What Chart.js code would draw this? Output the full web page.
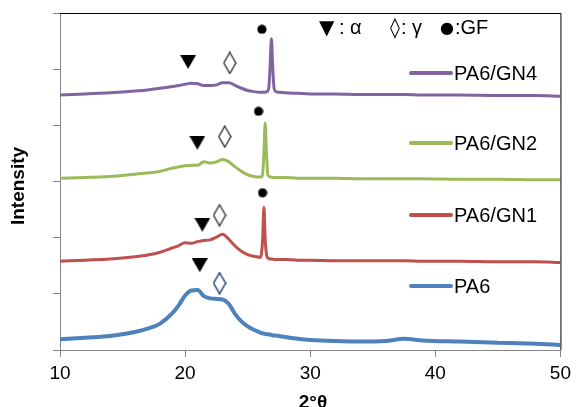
<!DOCTYPE html>
<html><head><meta charset="utf-8">
<script src="https://cdn.jsdelivr.net/npm/chart.js@4.4.1/dist/chart.umd.min.js"></script>
<style>html,body{margin:0;padding:0;background:#fff}canvas{display:block}</style>
</head><body>
<canvas id="c" width="576" height="407"></canvas>
<script>
// 2θ grid (degrees)
const twoTheta = [10,12,14,16,17,18,19,19.5,20,20.5,21,21.5,22,22.5,23,23.5,24,24.5,25,25.5,26,
  26.1,26.2,26.3,26.4,26.5,26.6,26.7,26.8,26.9,27,27.1,27.2,27.5,28,29,30,32,34,36,37.5,39,42,45,48,50];
// Intensities (arbitrary, offset)
const pa6 = [0.19,0.22,0.25,0.32,0.38,0.47,0.66,0.80,0.97,1.06,1.07,0.96,0.92,0.91,0.90,0.82,0.64,0.51,0.42,0.36,0.31,
  0.30,0.30,0.29,0.29,0.28,0.28,0.28,0.27,0.27,0.26,0.26,0.26,0.25,0.23,0.20,0.18,0.16,0.15,0.16,0.20,0.17,0.15,0.13,0.11,0.09];
const pa6gn1 = [1.58,1.60,1.62,1.66,1.69,1.74,1.82,1.86,1.91,1.90,1.93,1.95,1.96,2.01,2.06,1.97,1.85,1.76,1.70,1.67,1.65,
  1.71,1.98,2.54,1.98,1.71,1.64,1.63,1.62,1.62,1.62,1.61,1.61,1.61,1.61,1.60,1.60,1.59,1.59,1.59,1.59,1.58,1.58,1.57,1.57,1.56];
const pa6gn2 = [3.06,3.07,3.09,3.13,3.15,3.18,3.24,3.26,3.28,3.29,3.29,3.35,3.33,3.35,3.39,3.35,3.26,3.18,3.12,3.09,3.08,
  3.08,3.14,3.52,4.04,3.52,3.14,3.09,3.08,3.08,3.07,3.07,3.07,3.07,3.07,3.06,3.06,3.06,3.05,3.05,3.05,3.05,3.04,3.04,3.03,3.03];
const pa6gn4 = [4.54,4.56,4.58,4.61,4.63,4.66,4.69,4.71,4.73,4.75,4.74,4.71,4.71,4.72,4.76,4.76,4.71,4.66,4.62,4.60,4.59,
  4.59,4.59,4.59,4.59,4.60,4.61,4.69,5.08,5.54,5.04,4.68,4.61,4.59,4.58,4.57,4.56,4.56,4.55,4.55,4.55,4.54,4.54,4.53,4.53,4.52];
// Peak markers (PA6, GN1, GN2, GN4)
const alphaX = [21.17,21.38,20.98,20.24];
const alphaY = [1.51,2.23,3.69,5.13];
const gammaX = [22.75,22.75,23.17,23.57];
const gammaY = [1.19,2.40,3.80,5.11];
const gfX = [26.19,25.87,26.14];
const gfY = [2.80,4.25,5.71];
const xTicks = [10,20,30,40,50];
const seriesNames = ['PA6','PA6/GN1','PA6/GN2','PA6/GN4'];
const seriesColors = ['#4F81BD','#C0504D','#9BBB59','#8064A2'];

function mk(w,h,draw){const c=document.createElement('canvas');c.width=w;c.height=h;draw(c.getContext('2d'));return c;}
const triImg = mk(16,14,g=>{g.fillStyle='#000';g.beginPath();g.moveTo(0,0);g.lineTo(16,0);g.lineTo(8,14);g.closePath();g.fill();});
function diamond(color){return mk(14,23,g=>{g.fillStyle='#fff';g.strokeStyle=color;g.lineWidth=1.5;g.beginPath();g.moveTo(7,1);g.lineTo(13,11.5);g.lineTo(7,22);g.lineTo(1,11.5);g.closePath();g.fill();g.stroke();});}
const diaNavy = diamond('#1F3A73'), diaGray = diamond('#404040');
const dotImg = mk(10,10,g=>{g.fillStyle='#000';g.beginPath();g.arc(5,5,4.6,0,Math.PI*2);g.fill();});

const pts = (xs,ys)=>xs.map((x,i)=>({x,y:ys[i]}));
const lineSets = [pa6,pa6gn1,pa6gn2,pa6gn4].map((arr,i)=>({
  type:'line', label:seriesNames[i], data:pts(twoTheta,arr), borderColor:seriesColors[i],
  borderWidth:i===0?4:3, pointRadius:0, cubicInterpolationMode:'monotone', fill:false, order:2
}));

const deco = {
  id:'deco',
  afterDraw(chart){
    const {ctx, chartArea:a} = chart;
    ctx.save();
    ctx.strokeStyle='#000'; ctx.lineWidth=1;
    ctx.beginPath(); ctx.moveTo(a.left,a.top+0.5); ctx.lineTo(a.right+0.5,a.top+0.5); ctx.lineTo(a.right+0.5,a.bottom); ctx.stroke();
    // legend
    const ly=[286,215,143,73];
    ctx.font='20px "Liberation Sans", Arial, sans-serif'; ctx.textBaseline='middle'; ctx.fillStyle='#000';
    seriesNames.forEach((n,i)=>{
      ctx.strokeStyle=seriesColors[i]; ctx.lineWidth=4; ctx.lineCap='round';
      ctx.beginPath(); ctx.moveTo(411,ly[i]); ctx.lineTo(451,ly[i]); ctx.stroke();
      ctx.fillText(n,454,ly[i]+1);
    });
    // marker key
    ctx.textBaseline='alphabetic';
    ctx.font='20px "DejaVu Sans", sans-serif'; ctx.fillText('▼',319,34);
    ctx.font='20px "Liberation Sans", Arial, sans-serif';
    ctx.fillText(': α',339,34);
    ctx.font='20px "DejaVu Sans", sans-serif'; ctx.fillText('◊',390,34);
    ctx.font='20px "Liberation Sans", Arial, sans-serif'; ctx.fillText(': γ',401,34);
    ctx.font='16px "DejaVu Sans", sans-serif'; ctx.fillText('●',440,33);
    ctx.font='20px "Liberation Sans", Arial, sans-serif'; ctx.fillText(':GF',455,34);
    // axis titles
    ctx.font='bold 19px "Liberation Sans", Arial, sans-serif';
    ctx.textAlign='center'; ctx.textBaseline='middle';
    ctx.fillText('2°θ', 313, 403);
    ctx.translate(19,186); ctx.rotate(-Math.PI/2); ctx.fillText('Intensity',0,0);
    ctx.restore();
  }
};

new Chart(document.getElementById('c'),{
  data:{datasets:[
    ...lineSets,
    {type:'scatter', data:pts(alphaX,alphaY), pointStyle:triImg, order:1},
    {type:'scatter', data:pts(gammaX,gammaY), pointStyle:[diaNavy,diaGray,diaGray,diaGray], order:1},
    {type:'scatter', data:pts(gfX,gfY), pointStyle:dotImg, order:1}
  ]},
  options:{
    responsive:false, animation:false, events:[],
    layout:{padding:{left:0,right:13,top:13,bottom:0}},
    plugins:{legend:{display:false},tooltip:{enabled:false}},
    scales:{
      x:{type:'linear',min:10,max:50,
        afterBuildTicks:s=>{s.ticks=xTicks.map(v=>({value:v}));},
        afterFit:s=>{s.height=57;},
        grid:{drawOnChartArea:false,drawTicks:true,tickLength:7,color:'#868686'},
        border:{color:'#868686'},
        ticks:{color:'#000',padding:5,font:{family:'"Liberation Sans", Arial, sans-serif',size:19}}},
      y:{type:'linear',min:0,max:6,
        afterFit:s=>{s.width=60;},
        grid:{drawOnChartArea:false,drawTicks:true,tickLength:7,color:'#868686'},
        border:{color:'#868686'},
        ticks:{stepSize:1,callback:()=>'' }}
    }
  },
  plugins:[deco]
});
</script>
</body></html>
